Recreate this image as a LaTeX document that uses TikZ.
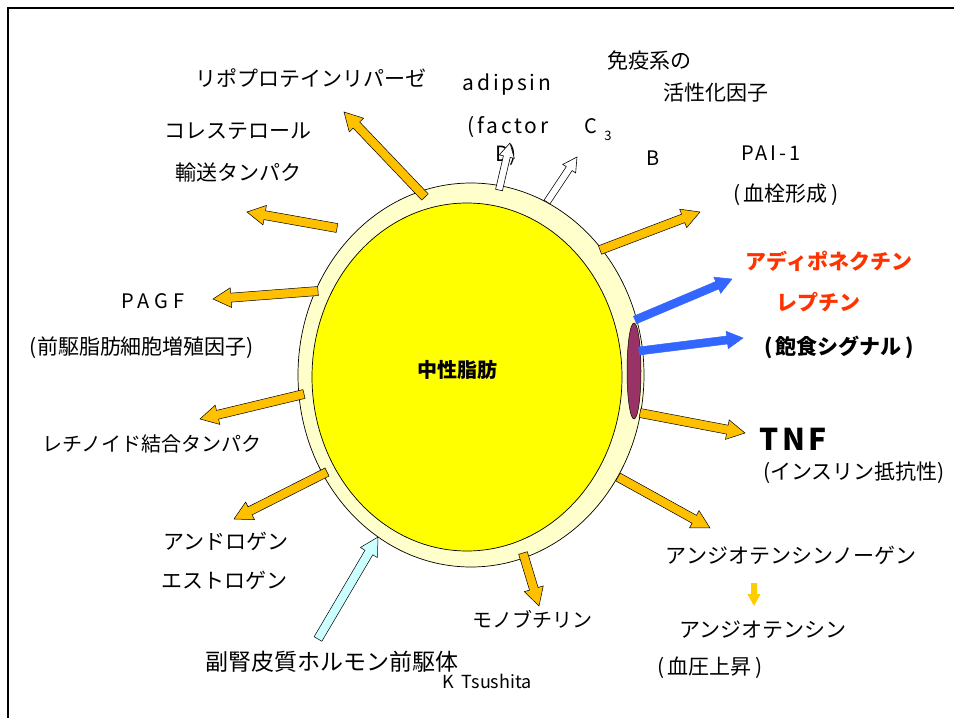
\documentclass[tikz,border=0pt]{standalone}
\usepackage{fontspec}
\setmainfont{Noto Sans CJK JP}
\usepackage{tikz}
\usetikzlibrary{calc,shapes.geometric}

\definecolor{ring}{HTML}{FFFFCC}
\definecolor{fatyellow}{HTML}{FFFF00}
\definecolor{vacuole}{HTML}{993366}
\definecolor{gold}{HTML}{FFC000}
\definecolor{lightgold}{HTML}{FFCC00}
\definecolor{signal}{HTML}{3366FF}
\definecolor{pale}{HTML}{CCFFFF}
\definecolor{alert}{HTML}{FF3300}

% block arrow from #3 to #4, #1 = half width of the shaft
\newcommand{\blockarrow}[4][4.5]{%
  \draw[#2] let \p1=($(#4)-(#3)$), \n1={atan2(\y1,\x1)}, \n2={veclen(\x1,\y1)} in
    [shift={(#3)}, rotate=\n1]
    (0,#1) -- (\n2-4*#1,#1) -- (\n2-4*#1,2.2*#1) -- (\n2,0)
    -- (\n2-4*#1,-2.2*#1) -- (\n2-4*#1,-#1) -- (0,-#1) -- cycle;}

\begin{document}
\begin{tikzpicture}[x=1pt,y=-1pt,
  every node/.style={inner sep=0pt,font=\fontsize{21}{25}\selectfont},
  goldarrow/.style={draw=black,line width=0.5pt,fill=gold},
  bluearrow/.style={draw=signal,line width=0.5pt,fill=signal},
  whitearrow/.style={draw=black,line width=0.6pt,fill=white},
  palearrow/.style={draw=black,line width=0.5pt,fill=pale},
  red/.style={text=alert,font=\fontsize{21}{25}\selectfont\bfseries}]
\useasboundingbox (0,0) rectangle (954,718);
\draw[line width=2.5pt] (8,718) -- (8,8) -- (954,8);

\node[draw,ellipse,fill=ring,line width=0.7pt,minimum width=346pt,minimum height=384pt] (cell) at (471,375) {};
\node[draw,ellipse,fill=fatyellow,line width=0.7pt,minimum width=310pt,minimum height=348pt] (lipid) at (467,377) {};
\node[draw,ellipse,fill=vacuole,line width=0.5pt,minimum width=14pt,minimum height=96pt] (vac) at (634,371) {};
\node[font=\fontsize{20}{24}\selectfont\bfseries] (tg) at (457,370) {中性脂肪};

\node (immune) at (649,60) {免疫系の};
\node (immune2) at (716,93) {活性化因子};
\node (lpl) at (311,78) {リポプロテインリパーゼ};
\node[font=\fontsize{21}{25}\selectfont\addfontfeature{LetterSpace=13}] (adipsin) at (507,85) {adipsin};
\node[font=\fontsize{21}{25}\selectfont\addfontfeature{LetterSpace=13}] (factor) at (508,127) {(factor};
\node[font=\fontsize{21}{25}\selectfont] (factD) at (506,155) {D)};
\node[font=\fontsize{20}{24}\selectfont] (c3) at (591,126) {C};
\node[font=\fontsize{13}{15}\selectfont] (c3sub) at (608,136) {3};
\node[font=\fontsize{20}{24}\selectfont] (factB) at (653,158) {B};
\node[font=\fontsize{20}{24}\selectfont\addfontfeature{LetterSpace=15}] (pai) at (771,153) {PAI-1};
\node (thromb) at (786,195) {(\,血栓形成\,)};
\node (chol) at (238,131) {コレステロール};
\node (chol2) at (238,173) {輸送タンパク};
\node[font=\fontsize{20}{24}\selectfont\addfontfeature{LetterSpace=25}] (pagf) at (153,301) {PAGF};
\node (pagf2) at (142,348) {(前駆脂肪細胞増殖因子)};
\node[font=\fontsize{20}{24}\selectfont] (rbp) at (152,444) {レチノイド結合タンパク};
\node (andro) at (226,541) {アンドロゲン};
\node (estro) at (224,580) {エストロゲン};
\node[font=\fontsize{23}{27}\selectfont] (cort) at (332,662) {副腎皮質ホルモン前駆体};
\node[font=\fontsize{18}{20}\selectfont] (author) at (487,681) {K\ \ Tsushita};
\node[font=\fontsize{20}{24}\selectfont] (mono) at (532,619) {モノブチリン};
\node (agt) at (791,555) {アンジオテンシンノーゲン};
\node (ang) at (763,630) {アンジオテンシン};
\node (bp) at (710,668) {(\,血圧上昇\,)};
\node[font=\fontsize{30}{34}\selectfont\bfseries\addfontfeature{LetterSpace=10}] (tnf) at (793,439) {TNF};
\node (ir) at (854,473) {(インスリン抵抗性)};
\node[red] (adpn) at (829,261) {アディポネクチン};
\node[red] (lep) at (818,302) {レプチン};
\node[font=\fontsize{21}{25}\selectfont\bfseries] (sat) at (839,347) {(\,飽食シグナル\,)};

\coordinate (lplA) at (425,197); \coordinate (lplB) at (344,112);
\coordinate (cholA) at (337,228); \coordinate (cholB) at (247,212);
\coordinate (pagfA) at (318,291); \coordinate (pagfB) at (213,299);
\coordinate (rbpA) at (304,394); \coordinate (rbpB) at (200,419);
\coordinate (sexA) at (327,472); \coordinate (sexB) at (234,519);
\coordinate (monoA) at (523,553); \coordinate (monoB) at (539,606);
\coordinate (agtA) at (618,477); \coordinate (agtB) at (710,528);
\coordinate (tnfA) at (640,413); \coordinate (tnfB) at (745,433);
\coordinate (paiA) at (600,250); \coordinate (paiB) at (700,212);
\coordinate (adpnA) at (635,320); \coordinate (adpnB) at (732,279);
\coordinate (lepA) at (639,351); \coordinate (lepB) at (743,338);
\coordinate (dA) at (499,190); \coordinate (dB) at (510,143);
\coordinate (cA) at (547,202); \coordinate (cB) at (577,157);
\coordinate (cortA) at (318,639); \coordinate (cortB) at (378,537);
\coordinate (angA) at (754,583); \coordinate (angB) at (754,606);

\foreach \a in {lpl,chol,pagf,rbp,sex,mono,agt,tnf,pai}
  \blockarrow{goldarrow}{\a A}{\a B};
\blockarrow[4]{bluearrow}{adpnA}{adpnB}
\blockarrow[4]{bluearrow}{lepA}{lepB}
\blockarrow[3.5]{whitearrow}{dA}{dB}
\blockarrow[3.5]{whitearrow}{cA}{cB}
\blockarrow{palearrow}{cortA}{cortB}
\blockarrow[3]{draw=none,fill=lightgold}{angA}{angB}
\end{tikzpicture}
\end{document}
